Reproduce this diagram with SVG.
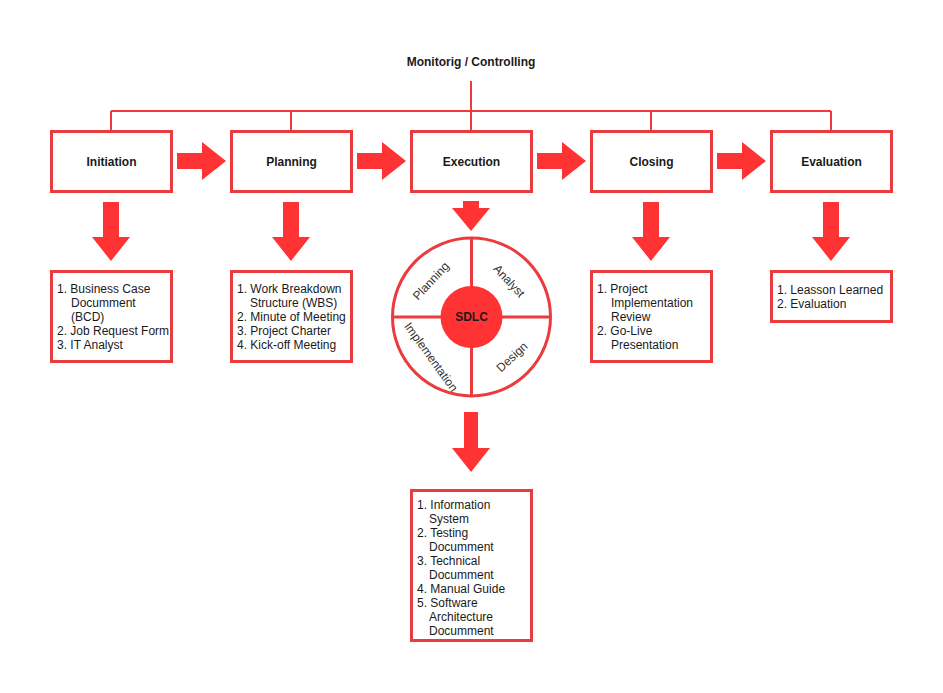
<svg xmlns="http://www.w3.org/2000/svg" width="943" height="693" viewBox="0 0 943 693">
<style>
.box{fill:#fff;stroke:#ea3b3f;stroke-width:3}
.conn{fill:none;stroke:#f0393e;stroke-width:2}
.arr{fill:#ff3333;stroke:none}
.lbl{font-family:"Liberation Sans",Arial,sans-serif;font-size:12px;font-weight:bold;fill:#1a1a1a;text-anchor:middle}
.lst{font-family:"Liberation Sans",Arial,sans-serif;font-size:12px;fill:#1a1a1a}
.seg{font-family:"Liberation Sans",Arial,sans-serif;font-size:12px;fill:#333;text-anchor:middle}
.ring{fill:#fff;stroke:#ea3b3f;stroke-width:3}
</style>
<rect width="943" height="693" fill="#fff"/>
<defs>
<path id="harr" d="M177 153 H202 V142 L226 161 L202 180 V169 H177 Z"/>
<path id="varr" d="M103 202 H119 V237 H130 L111 261 L92 237 H103 Z"/>
</defs>
<g id="connectors">
<text class="lbl" x="471" y="66">Monitorig / Controlling</text>
<path class="conn" d="M471 81 V111 M111 111 H831 M111 111 V131 M291 111 V131 M471 111 V131 M651 111 V131 M831 111 V131"/>
<use href="#harr" class="arr"/>
<use href="#harr" class="arr" x="180"/>
<use href="#harr" class="arr" x="360"/>
<use href="#harr" class="arr" x="540"/>
<use href="#varr" class="arr"/>
<use href="#varr" class="arr" x="180"/>
<use href="#varr" class="arr" x="540"/>
<use href="#varr" class="arr" x="720"/>
<path class="arr" d="M463 201 H479 V208 H490 L471 231 L452 208 H463 Z"/>
<path class="arr" d="M464 412 H478 V448 H490 L471 472 L452 448 H464 Z"/>
</g>
<g id="initiation"><rect class="box" x="51.5" y="131.5" width="120" height="60"/><text class="lbl" x="111.5" y="166">Initiation</text></g>
<g id="planning"><rect class="box" x="231.5" y="131.5" width="120" height="60"/><text class="lbl" x="291.5" y="166">Planning</text></g>
<g id="execution"><rect class="box" x="411.5" y="131.5" width="120" height="60"/><text class="lbl" x="471.5" y="166">Execution</text></g>
<g id="closing"><rect class="box" x="591.5" y="131.5" width="120" height="60"/><text class="lbl" x="651.5" y="166">Closing</text></g>
<g id="evaluation"><rect class="box" x="771.5" y="131.5" width="120" height="60"/><text class="lbl" x="831.5" y="166">Evaluation</text></g>
<g id="initiation-list"><rect class="box" x="51.5" y="271.5" width="120" height="90"/>
<text class="lst"><tspan x="57" y="293">1. Business Case</tspan><tspan x="71" y="307">Documment</tspan><tspan x="71" y="321">(BCD)</tspan><tspan x="57" y="335">2. Job Request Form</tspan><tspan x="57" y="349">3. IT Analyst</tspan></text></g>
<g id="planning-list"><rect class="box" x="231.5" y="271.5" width="120" height="90"/>
<text class="lst"><tspan x="237" y="293">1. Work Breakdown</tspan><tspan x="250" y="307">Structure (WBS)</tspan><tspan x="237" y="321">2. Minute of Meeting</tspan><tspan x="237" y="335">3. Project Charter</tspan><tspan x="237" y="349">4. Kick-off Meeting</tspan></text></g>
<g id="closing-list"><rect class="box" x="591.5" y="271.5" width="120" height="90"/>
<text class="lst"><tspan x="597" y="293">1. Project</tspan><tspan x="611" y="307">Implementation</tspan><tspan x="611" y="321">Review</tspan><tspan x="597" y="335">2. Go-Live</tspan><tspan x="611" y="349">Presentation</tspan></text></g>
<g id="evaluation-list"><rect class="box" x="771.5" y="271.5" width="120" height="50"/>
<text class="lst"><tspan x="777" y="294">1. Leasson Learned</tspan><tspan x="777" y="308">2. Evaluation</tspan></text></g>
<g id="sdlc">
<circle class="ring" cx="471.5" cy="317" r="79"/>
<path d="M471.5 238 V396 M392.5 317 H550.5" stroke="#ea3b3f" stroke-width="3"/>
<circle cx="471.5" cy="317" r="31" fill="#ff3333"/>
<text class="lbl" x="471.5" y="321">SDLC</text>
<text class="seg" transform="translate(431 281) rotate(-47)" y="4">Planning</text>
<text class="seg" transform="translate(509 281) rotate(47)" y="4">Analyst</text>
<text class="seg" transform="translate(431 357) rotate(54)" y="4">Implementation</text>
<text class="seg" transform="translate(512 357) rotate(-43)" y="4">Design</text>
</g>
<g id="execution-list"><rect class="box" x="411.5" y="490.5" width="120" height="150"/>
<text class="lst"><tspan x="417" y="509">1. Information</tspan><tspan x="429" y="523">System</tspan><tspan x="417" y="537">2. Testing</tspan><tspan x="429" y="551">Documment</tspan><tspan x="417" y="565">3. Technical</tspan><tspan x="429" y="579">Documment</tspan><tspan x="417" y="593">4. Manual Guide</tspan><tspan x="417" y="607">5. Software</tspan><tspan x="429" y="621">Architecture</tspan><tspan x="429" y="635">Documment</tspan></text></g>
</svg>
